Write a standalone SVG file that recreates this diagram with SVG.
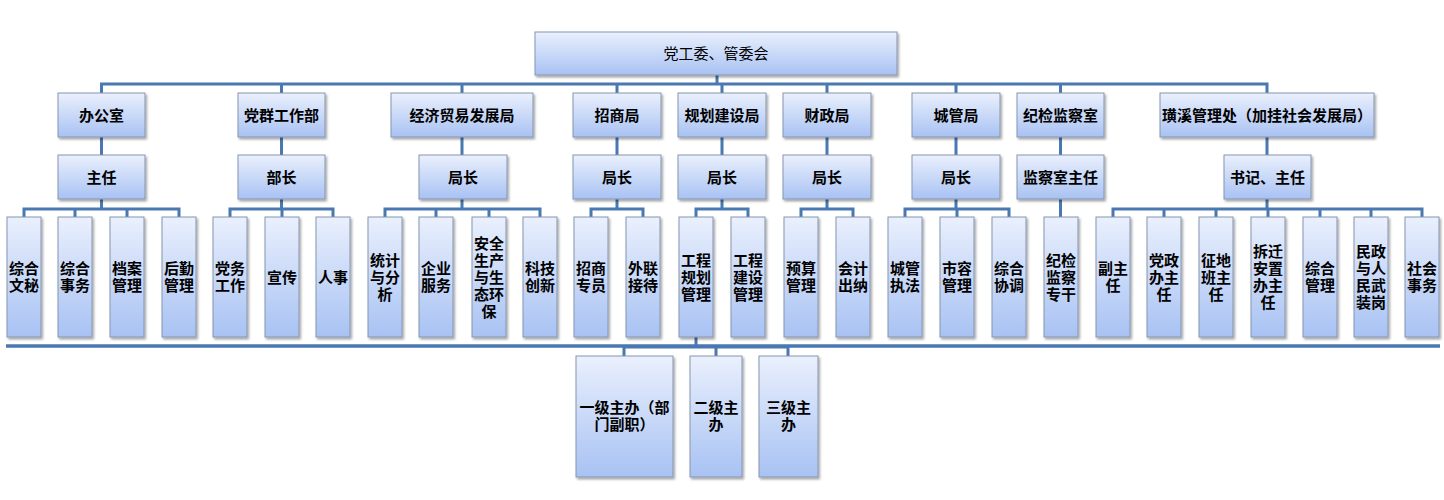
<svg xmlns="http://www.w3.org/2000/svg" width="1444" height="500" viewBox="0 0 1444 500">
<defs>
<linearGradient id="g" x1="0" y1="0" x2="0" y2="1">
<stop offset="0" stop-color="#eaf0fd"/>
<stop offset="1" stop-color="#a8c2f3"/>
</linearGradient>
<filter id="sh" x="-20%" y="-20%" width="140%" height="140%">
<feDropShadow dx="1.5" dy="2" stdDeviation="1.3" flood-color="#000" flood-opacity="0.35"/>
</filter>
<style>
.b{fill:url(#g);stroke:#8595b0;stroke-width:1;filter:url(#sh)}
.t{font-family:"Noto Sans CJK SC","Noto Sans CJK TC",sans-serif;font-size:15px;font-weight:bold;fill:#000;text-anchor:middle}
.r{font-weight:normal}
.c{fill:none;stroke:#4a78b0;stroke-width:3;stroke-linecap:square}
.bl{fill:none;stroke:#4a78b0;stroke-width:3.5}
</style>
</defs>
<rect width="1444" height="500" fill="#fff"/>
<g id="connectors">
<path class="c" d="M717 75V84 M101.5 84H1267 M101.5 84V93 M281.5 84V93 M462 84V93 M617 84V93 M722 84V93 M827 84V93 M956 84V93 M1060.5 84V93 M1267 84V93"/>
<path class="c" d="M101.5 137V155 M281.5 137V155 M462 137V155 M617 137V155 M722 137V155 M827 137V155 M956 137V155 M1060.5 137V155 M1267 137V155"/>
<path class="c" d="M101.5 199V209 M24 209H179 M24 209V217 M75 209V217 M127 209V217 M179 209V217"/>
<path class="c" d="M281.5 199V209 M230 209H333 M230 209V217 M282 209V217 M333 209V217"/>
<path class="c" d="M462 199V209 M385 209H540 M385 209V217 M436 209V217 M489 209V217 M540 209V217"/>
<path class="c" d="M617 199V209 M591 209H643 M591 209V217 M643 209V217"/>
<path class="c" d="M722 199V209 M696 209H748 M696 209V217 M748 209V217"/>
<path class="c" d="M827 199V209 M801 209H853 M801 209V217 M853 209V217"/>
<path class="c" d="M956 199V209 M905 209H1009 M905 209V217 M957 209V217 M1009 209V217"/>
<path class="c" d="M1060.5 199V217"/>
<path class="c" d="M1267 199V209 M1113 209H1422 M1113 209V217 M1164 209V217 M1216 209V217 M1268 209V217 M1320 209V217 M1371 209V217 M1422 209V217"/>
<path class="bl" d="M6 346H1440"/>
<path class="c" d="M696 337V347 M624 347H788 M624 347V356 M716 347V356 M788 347V356"/>
</g>
<g id="root"><rect class="b" x="535" y="32" width="362" height="43"/><text class="t r" x="716" y="59">党工委、管委会</text></g>
<g id="l1-bgs"><rect class="b" x="58" y="93" width="87" height="44"/><text class="t" x="101.5" y="120.5">办公室</text></g>
<g id="l1-dq"><rect class="b" x="238" y="93" width="87" height="44"/><text class="t" x="281.5" y="120.5">党群工作部</text></g>
<g id="l1-jm"><rect class="b" x="391" y="93" width="142" height="44"/><text class="t" x="462" y="120.5">经济贸易发展局</text></g>
<g id="l1-zs"><rect class="b" x="573" y="93" width="88" height="44"/><text class="t" x="617" y="120.5">招商局</text></g>
<g id="l1-gh"><rect class="b" x="678" y="93" width="88" height="44"/><text class="t" x="722" y="120.5">规划建设局</text></g>
<g id="l1-cz"><rect class="b" x="783" y="93" width="88" height="44"/><text class="t" x="827" y="120.5">财政局</text></g>
<g id="l1-cg"><rect class="b" x="912" y="93" width="88" height="44"/><text class="t" x="956" y="120.5">城管局</text></g>
<g id="l1-jj"><rect class="b" x="1017" y="93" width="87" height="44"/><text class="t" x="1060.5" y="120.5">纪检监察室</text></g>
<g id="l1-hx"><rect class="b" x="1160" y="93" width="214" height="44"/><text class="t" x="1267" y="120.5">璜溪管理处（加挂社会发展局）</text></g>
<g id="l2-bgs"><rect class="b" x="58" y="155" width="87" height="44"/><text class="t" x="101.5" y="182.5">主任</text></g>
<g id="l2-dq"><rect class="b" x="238" y="155" width="87" height="44"/><text class="t" x="281.5" y="182.5">部长</text></g>
<g id="l2-jm"><rect class="b" x="419" y="155" width="88" height="44"/><text class="t" x="463" y="182.5">局长</text></g>
<g id="l2-zs"><rect class="b" x="573" y="155" width="88" height="44"/><text class="t" x="617" y="182.5">局长</text></g>
<g id="l2-gh"><rect class="b" x="678" y="155" width="88" height="44"/><text class="t" x="722" y="182.5">局长</text></g>
<g id="l2-cz"><rect class="b" x="783" y="155" width="88" height="44"/><text class="t" x="827" y="182.5">局长</text></g>
<g id="l2-cg"><rect class="b" x="912" y="155" width="88" height="44"/><text class="t" x="956" y="182.5">局长</text></g>
<g id="l2-jj"><rect class="b" x="1017" y="155" width="87" height="44"/><text class="t" x="1060.5" y="182.5">监察室主任</text></g>
<g id="l2-hx"><rect class="b" x="1224" y="155" width="87" height="44"/><text class="t" x="1267.5" y="182.5">书记、主任</text></g>
<g id="l3-1"><rect class="b" x="7" y="217" width="34" height="120"/><text class="t" x="24" y="274">综合<tspan x="24" y="291">文秘</tspan></text></g>
<g id="l3-2"><rect class="b" x="58" y="217" width="34" height="120"/><text class="t" x="75" y="274">综合<tspan x="75" y="291">事务</tspan></text></g>
<g id="l3-3"><rect class="b" x="110" y="217" width="34" height="120"/><text class="t" x="127" y="274">档案<tspan x="127" y="291">管理</tspan></text></g>
<g id="l3-4"><rect class="b" x="162" y="217" width="34" height="120"/><text class="t" x="179" y="274">后勤<tspan x="179" y="291">管理</tspan></text></g>
<g id="l3-5"><rect class="b" x="213" y="217" width="34" height="120"/><text class="t" x="230" y="274">党务<tspan x="230" y="291">工作</tspan></text></g>
<g id="l3-6"><rect class="b" x="265" y="217" width="34" height="120"/><text class="t" x="282" y="282.5">宣传</text></g>
<g id="l3-7"><rect class="b" x="316" y="217" width="34" height="120"/><text class="t" x="333" y="282.5">人事</text></g>
<g id="l3-8"><rect class="b" x="368" y="217" width="34" height="120"/><text class="t" x="385" y="265.5">统计<tspan x="385" y="282.5">与分</tspan><tspan x="385" y="299.5">析</tspan></text></g>
<g id="l3-9"><rect class="b" x="419" y="217" width="34" height="120"/><text class="t" x="436" y="274">企业<tspan x="436" y="291">服务</tspan></text></g>
<g id="l3-10"><rect class="b" x="472" y="217" width="34" height="120"/><text class="t" x="489" y="248.5">安全<tspan x="489" y="265.5">生产</tspan><tspan x="489" y="282.5">与生</tspan><tspan x="489" y="299.5">态环</tspan><tspan x="489" y="316.5">保</tspan></text></g>
<g id="l3-11"><rect class="b" x="523" y="217" width="34" height="120"/><text class="t" x="540" y="274">科技<tspan x="540" y="291">创新</tspan></text></g>
<g id="l3-12"><rect class="b" x="574" y="217" width="34" height="120"/><text class="t" x="591" y="274">招商<tspan x="591" y="291">专员</tspan></text></g>
<g id="l3-13"><rect class="b" x="626" y="217" width="34" height="120"/><text class="t" x="643" y="274">外联<tspan x="643" y="291">接待</tspan></text></g>
<g id="l3-14"><rect class="b" x="679" y="217" width="34" height="120"/><text class="t" x="696" y="265.5">工程<tspan x="696" y="282.5">规划</tspan><tspan x="696" y="299.5">管理</tspan></text></g>
<g id="l3-15"><rect class="b" x="731" y="217" width="34" height="120"/><text class="t" x="748" y="265.5">工程<tspan x="748" y="282.5">建设</tspan><tspan x="748" y="299.5">管理</tspan></text></g>
<g id="l3-16"><rect class="b" x="784" y="217" width="34" height="120"/><text class="t" x="801" y="274">预算<tspan x="801" y="291">管理</tspan></text></g>
<g id="l3-17"><rect class="b" x="836" y="217" width="34" height="120"/><text class="t" x="853" y="274">会计<tspan x="853" y="291">出纳</tspan></text></g>
<g id="l3-18"><rect class="b" x="888" y="217" width="34" height="120"/><text class="t" x="905" y="274">城管<tspan x="905" y="291">执法</tspan></text></g>
<g id="l3-19"><rect class="b" x="940" y="217" width="34" height="120"/><text class="t" x="957" y="274">市容<tspan x="957" y="291">管理</tspan></text></g>
<g id="l3-20"><rect class="b" x="992" y="217" width="34" height="120"/><text class="t" x="1009" y="274">综合<tspan x="1009" y="291">协调</tspan></text></g>
<g id="l3-21"><rect class="b" x="1044" y="217" width="34" height="120"/><text class="t" x="1061" y="265.5">纪检<tspan x="1061" y="282.5">监察</tspan><tspan x="1061" y="299.5">专干</tspan></text></g>
<g id="l3-22"><rect class="b" x="1096" y="217" width="34" height="120"/><text class="t" x="1113" y="274">副主<tspan x="1113" y="291">任</tspan></text></g>
<g id="l3-23"><rect class="b" x="1147" y="217" width="34" height="120"/><text class="t" x="1164" y="265.5">党政<tspan x="1164" y="282.5">办主</tspan><tspan x="1164" y="299.5">任</tspan></text></g>
<g id="l3-24"><rect class="b" x="1199" y="217" width="34" height="120"/><text class="t" x="1216" y="265.5">征地<tspan x="1216" y="282.5">班主</tspan><tspan x="1216" y="299.5">任</tspan></text></g>
<g id="l3-25"><rect class="b" x="1251" y="217" width="34" height="120"/><text class="t" x="1268" y="257">拆迁<tspan x="1268" y="274">安置</tspan><tspan x="1268" y="291">办主</tspan><tspan x="1268" y="308">任</tspan></text></g>
<g id="l3-26"><rect class="b" x="1303" y="217" width="34" height="120"/><text class="t" x="1320" y="274">综合<tspan x="1320" y="291">管理</tspan></text></g>
<g id="l3-27"><rect class="b" x="1354" y="217" width="34" height="120"/><text class="t" x="1371" y="257">民政<tspan x="1371" y="274">与人</tspan><tspan x="1371" y="291">民武</tspan><tspan x="1371" y="308">装岗</tspan></text></g>
<g id="l3-28"><rect class="b" x="1405" y="217" width="34" height="120"/><text class="t" x="1422" y="274">社会<tspan x="1422" y="291">事务</tspan></text></g>
<g id="l4-1"><rect class="b" x="576" y="356" width="97" height="121"/><text class="t" x="624.5" y="413">一级主办（部<tspan x="624.5" y="430">门副职）</tspan></text></g>
<g id="l4-2"><rect class="b" x="690" y="356" width="52" height="121"/><text class="t" x="716" y="413">二级主<tspan x="716" y="430">办</tspan></text></g>
<g id="l4-3"><rect class="b" x="759" y="356" width="59" height="121"/><text class="t" x="788.5" y="413">三级主<tspan x="788.5" y="430">办</tspan></text></g>
</svg>
